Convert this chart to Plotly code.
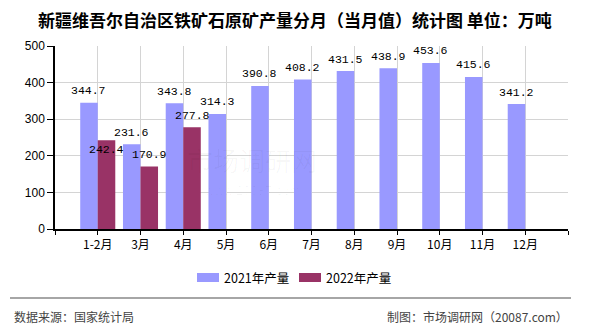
import plotly.graph_objects as go

# Monthly iron ore output, Xinjiang (10k tonnes)
months = ["1-2月", "3月", "4月", "5月", "6月", "7月", "8月", "9月", "10月", "11月", "12月"]
output_2021 = [344.7, 231.6, 343.8, 314.3, 390.8, 408.2, 431.5, 438.9, 453.6, 415.6, 341.2]
output_2022 = [242.4, 170.9, 277.8]
series_names = ["2021年产量", "2022年产量"]
# vertical nudge (px) of each 2022 value label
label_shift_2022 = [-9, 12, 12]

y_ticks = [0, 100, 200, 300, 400, 500]

C2021 = "#9999FF"
C2022 = "#993366"
BARGAP = 0.18
half = (1 - BARGAP) / 4  # centre offset of each bar within its group

W, H = 590, 330
ML, MR, MT, MB = 55, 22, 46, 101
H_PLOT = H - MT - MB
W_PLOT = W - ML - MR


def py(pix_y):
    """page pixel row -> paper y"""
    return (H - MB - pix_y) / H_PLOT


def px(pix_x):
    """page pixel column -> paper x"""
    return (pix_x - ML) / W_PLOT


idx = list(range(len(months)))
tickvals = list(range(-1, len(months) + 1))
ticktext = [""] + months + [""]

fig = go.Figure()
fig.add_bar(x=idx, y=output_2021, name=series_names[0], marker_color=C2021,
            marker_line_width=0)
fig.add_bar(x=idx[:len(output_2022)], y=output_2022, name=series_names[1],
            marker_color=C2022, marker_line_width=0)

label_font = dict(family="Liberation Mono", size=11.5, color="#000000")
for i, v in enumerate(output_2021):
    fig.add_annotation(x=i - half, y=v, text=f"{v:.1f}", showarrow=False,
                       yshift=12, yanchor="middle", font=label_font)
for i, v in enumerate(output_2022):
    fig.add_annotation(x=i + half, y=v, text=f"{v:.1f}", showarrow=False,
                       yshift=label_shift_2022[i], yanchor="middle", font=label_font)

# faint watermark
fig.add_annotation(xref="paper", yref="paper", x=px(252), y=py(180), text="市场调研网",
                   showarrow=False, font=dict(family="Noto Sans CJK SC", size=26,
                                              color="rgba(0,0,0,0.03)"))
fig.add_annotation(xref="paper", yref="paper", x=px(252), y=py(200), text="www.20087.com",
                   showarrow=False, font=dict(family="Liberation Sans", size=13,
                                              color="rgba(0,0,0,0.03)"))

# title, centred on the page
fig.add_annotation(xref="paper", yref="paper", x=px(W / 2), xanchor="center",
                   y=py(19), yanchor="middle",
                   text="<b>新疆维吾尔自治区铁矿石原矿产量分月（当月值）统计图 单位：万吨</b>",
                   showarrow=False,
                   font=dict(family="Noto Sans CJK SC", size=17, color="#000000"))

# legend drawn as swatches + labels
legend_items = [(C2021, 197, series_names[0]), (C2022, 299, series_names[1])]
for color, x0, name in legend_items:
    fig.add_shape(type="rect", xref="paper", yref="paper",
                  x0=px(x0), x1=px(x0 + 22), y0=py(273), y1=py(282),
                  fillcolor=color, line_width=0)
    fig.add_annotation(xref="paper", yref="paper", x=px(x0 + 25), xanchor="left",
                       y=py(277.5), yanchor="middle", text=name, showarrow=False,
                       font=dict(family="Noto Sans CJK SC", size=12.5, color="#000000"))

# separator line and footer
fig.add_shape(type="line", xref="paper", yref="paper", x0=px(10), x1=px(571),
              y0=py(298), y1=py(298), line=dict(color="#888888", width=1.5))

footer_font = dict(family="Noto Sans CJK SC", size=12, color="#444444")
fig.add_annotation(xref="paper", yref="paper", x=px(12), xanchor="left", y=py(316),
                   yanchor="middle", text="数据来源：国家统计局", showarrow=False, font=footer_font)
fig.add_annotation(xref="paper", yref="paper", x=px(570), xanchor="right", y=py(316),
                   yanchor="middle", text="制图：市场调研网（20087.com）", showarrow=False,
                   font=footer_font)

fig.update_layout(
    width=W, height=H,
    margin=dict(l=ML, r=MR, t=MT, b=MB),
    paper_bgcolor="white", plot_bgcolor="white",
    barmode="group", bargap=BARGAP, bargroupgap=0,
    showlegend=False,
    xaxis=dict(range=[-1, len(months)], tickmode="array", tickvals=tickvals,
               ticktext=ticktext, showgrid=True, gridcolor="#d4d4d4", gridwidth=1,
               showline=True, linecolor="#000000", linewidth=1.5,
               ticks="outside", ticklen=4, tickcolor="#000000",
               tickfont=dict(family="Noto Sans CJK SC", size=12, color="#000000"),
               zeroline=False, fixedrange=True),
    yaxis=dict(range=[0, 500], tickvals=y_ticks, showgrid=True, gridcolor="#d4d4d4",
               gridwidth=1, showline=True, linecolor="#000000", linewidth=1.5,
               ticks="outside", ticklen=6, tickcolor="#000000",
               tickfont=dict(family="Liberation Sans", size=12, color="#000000"),
               zeroline=False, fixedrange=True),
)

fig.write_html("out.html")
